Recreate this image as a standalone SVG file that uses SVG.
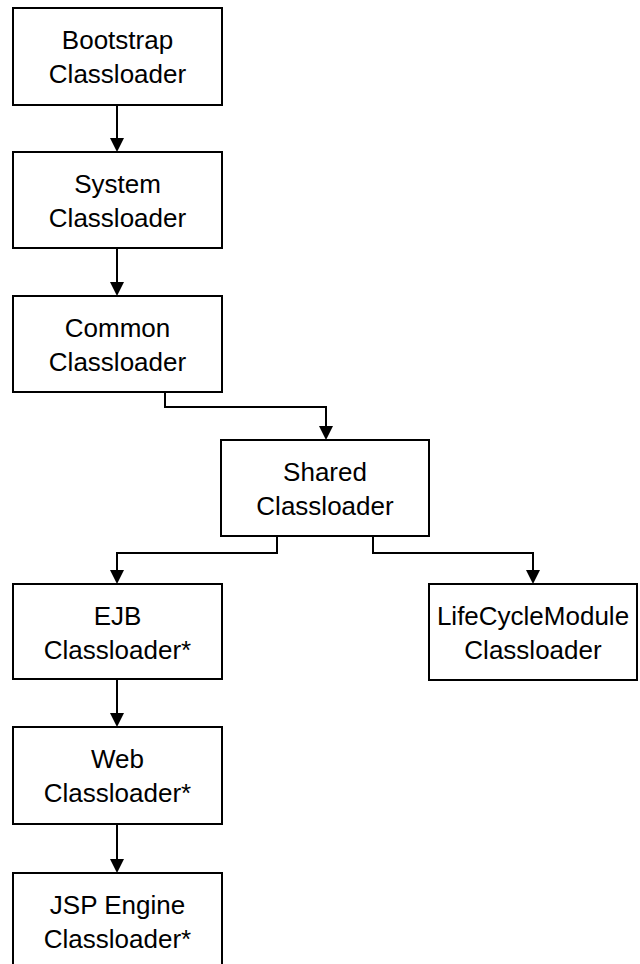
<svg xmlns="http://www.w3.org/2000/svg" width="640" height="964" viewBox="0 0 640 964">
<style>
.box{fill:#fff;stroke:#000;stroke-width:2}
.lbl{font-family:"Liberation Sans",Arial,sans-serif;font-size:26px;fill:#000;text-anchor:middle}
.con{fill:none;stroke:#000;stroke-width:2}
</style>
<rect width="640" height="964" fill="#fff"/>
<g id="connectors">
<path class="con" d="M117,105 V140"/>
<polygon points="110,138 124,138 117,152"/>
<path class="con" d="M117,248 V284"/>
<polygon points="110,282 124,282 117,296"/>
<path class="con" d="M165,392 V407 H326 V428"/>
<polygon points="319,426 333,426 326,440"/>
<path class="con" d="M277,536 V553 H117 V572"/>
<polygon points="110,570 124,570 117,584"/>
<path class="con" d="M373,536 V553 H533 V572"/>
<polygon points="526,570 540,570 533,584"/>
<path class="con" d="M117,679 V715"/>
<polygon points="110,713 124,713 117,727"/>
<path class="con" d="M117,824 V861"/>
<polygon points="110,859 124,859 117,873"/>
</g>
<g id="bootstrap">
<rect class="box" x="13" y="8" width="209" height="97"/>
<text class="lbl" x="117.5" y="49">Bootstrap</text>
<text class="lbl" x="117.5" y="83">Classloader</text>
</g>
<g id="system">
<rect class="box" x="13" y="152" width="209" height="96"/>
<text class="lbl" x="117.5" y="193">System</text>
<text class="lbl" x="117.5" y="227">Classloader</text>
</g>
<g id="common">
<rect class="box" x="13" y="296" width="209" height="96"/>
<text class="lbl" x="117.5" y="337">Common</text>
<text class="lbl" x="117.5" y="371">Classloader</text>
</g>
<g id="shared">
<rect class="box" x="221" y="440" width="208" height="96"/>
<text class="lbl" x="325" y="481">Shared</text>
<text class="lbl" x="325" y="515">Classloader</text>
</g>
<g id="ejb">
<rect class="box" x="13" y="584" width="209" height="95"/>
<text class="lbl" x="117.5" y="625">EJB</text>
<text class="lbl" x="117.5" y="659">Classloader*</text>
</g>
<g id="lifecycle">
<rect class="box" x="429" y="584" width="208" height="96"/>
<text class="lbl" x="533" y="625">LifeCycleModule</text>
<text class="lbl" x="533" y="659">Classloader</text>
</g>
<g id="web">
<rect class="box" x="13" y="727" width="209" height="97"/>
<text class="lbl" x="117.5" y="768">Web</text>
<text class="lbl" x="117.5" y="802">Classloader*</text>
</g>
<g id="jsp">
<rect class="box" x="13" y="873" width="209" height="96"/>
<text class="lbl" x="117.5" y="914">JSP Engine</text>
<text class="lbl" x="117.5" y="948">Classloader*</text>
</g>
</svg>
